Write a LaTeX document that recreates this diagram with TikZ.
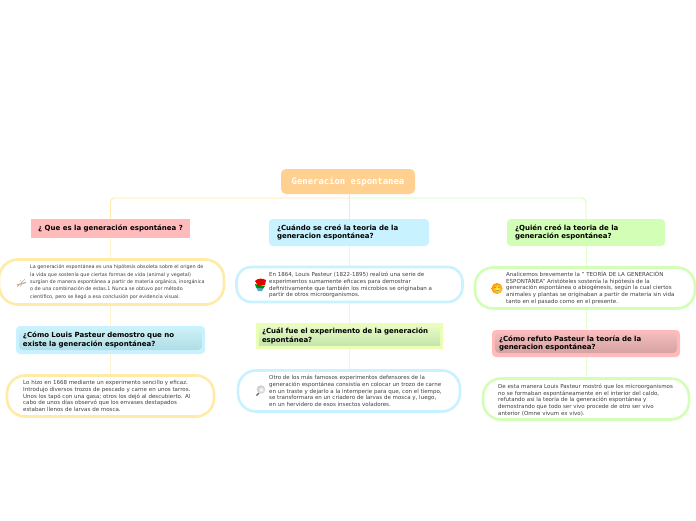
\documentclass[tikz,border=0pt]{standalone}
\usepackage{fontspec}
\setmainfont{DejaVu Sans}
\setmonofont{DejaVu Sans Mono}
\usetikzlibrary{calc,backgrounds}
\definecolor{cent}{HTML}{FFD08F}
\definecolor{cyel}{HTML}{FFEBA8}
\definecolor{cgrn}{HTML}{D2FFB5}
\definecolor{cblu}{HTML}{C8F2FF}
\definecolor{cred}{HTML}{FFBBBB}
\definecolor{clim}{HTML}{EAFFB5}
\definecolor{txt}{HTML}{404040}
\definecolor{gbt}{HTML}{D0F3F8}
\definecolor{gbb}{HTML}{A9D8E2}
\definecolor{ggt}{HTML}{EDFFC8}
\definecolor{ggb}{HTML}{BEE0A8}
\definecolor{grt}{HTML}{F8C0C0}
\definecolor{grb}{HTML}{D09C9C}
\tikzset{
  x=1pt,y=-1pt,
  central/.style={fill=cent,rounded corners=5pt,minimum width=134pt,minimum height=25pt,inner sep=0pt,
    text=white,font=\ttfamily\bfseries\fontsize{8.9}{10}\selectfont},
  head/.style={rounded corners=#1,inner sep=0pt,align=left,anchor=center,text=black,font=\bfseries\fontsize{7}{8.8}\selectfont},
  head/.default=4pt,
  bubble/.style={draw=#1,line width=2.6pt,fill=white,inner sep=0pt},
  body/.style={inner sep=0pt,anchor=west,align=left,text=txt,font=\fontsize{5.52}{6.75}\selectfont},
  bodysmall/.style={body,font=\fontsize{4.85}{7.4}\selectfont},
  lk/.style={line width=0.9pt,draw=#1},
  glow/.style n args={2}{path picture={\shade[top color=#1,bottom color=#2]
    ($(path picture bounding box.north west)+(3,3)$) rectangle ($(path picture bounding box.south east)+(-3,-4)$);}}
}
\begin{document}
\begin{tikzpicture}
\useasboundingbox (0,0) rectangle (696,520);
% central
\node[central] (c) at (348,181.5) {Generacion espontanea};
\coordinate (j) at (349,198);
% headers
\node[head=0pt,fill=cred,minimum width=159pt,minimum height=18.5pt,align=center] (h1) at (110.5,228.7) {¿ Que es la generación espontánea ?};
\node[head,fill=cblu,minimum width=160pt,minimum height=27pt,text width=144pt] (h3) at (349,232.5) {¿Cuándo se creó la teoria de la\\generacion espontánea?};
\node[head,fill=cgrn,minimum width=158pt,minimum height=27pt,text width=142pt] (h5) at (586,232.5) {¿Quién creó la teoria de la\\generación espontánea?};
\node[head,fill=cblu,minimum width=189pt,minimum height=28pt,text width=175pt,glow={gbt}{gbb}] (h2) at (110.5,340) {¿Cómo Louis Pasteur demostro que no\\existe la generación espontánea?};
\node[head=0pt,fill=clim,minimum width=187pt,minimum height=26pt,text width=175pt,glow={ggt}{ggb}] (h4) at (349.5,336) {¿Cuál fue el experimento de la generación\\espontánea?};
\node[head,fill=cred,minimum width=188pt,minimum height=27pt,text width=174pt,glow={grt}{grb}] (h6) at (586,343.5) {¿Cómo refuto Pasteur la teoría de la\\generacion espontánea?};
% bubbles
\node[bubble=cyel,minimum width=225pt,minimum height=45pt,rounded corners=19pt] (t1) at (111.5,282) {};
\node[bubble=cyel,minimum width=207pt,minimum height=41pt,rounded corners=18pt] (t2) at (110.5,396) {};
\node[bubble=cblu,minimum width=226pt,minimum height=35pt,rounded corners=15pt] (t3) at (349.5,284.5) {};
\node[bubble=cblu,minimum width=222pt,minimum height=41pt,rounded corners=18pt] (t4) at (349,391) {};
\node[bubble=cgrn,minimum width=220pt,minimum height=41pt,rounded corners=18pt] (t5) at (585,288) {};
\node[bubble=cgrn,minimum width=206pt,minimum height=41pt,rounded corners=18pt] (t6) at (586,399) {};
% body text
\node[bodysmall] (b1) at (30,282) {La generación espontánea es una hipótesis obsoleta sobre el origen de\\la vida que sostenía que ciertas formas de vida (animal y vegetal)\\surgían de manera espontánea a partir de materia orgánica, inorgánica\\o de una combinación de estas.1 Nunca se obtuvo por método\\científico, pero se llegó a esa conclusión por evidencia visual.};
\node[body] (b2) at (23,396) {Lo hizo en 1668 mediante un experimento sencillo y eficaz.\\Introdujo diversos trozos de pescado y carne en unos tarros.\\Unos los tapó con una gasa; otros los dejó al descubierto. Al\\cabo de unos días observó que los envases destapados\\estaban llenos de larvas de mosca.};
\node[body] (b3) at (269,285) {En 1864, Louis Pasteur (1822-1895) realizó una serie de\\experimentos sumamente eficaces para demostrar\\definitivamente que también los microbios se originaban a\\partir de otros microorganismos.};
\node[body] (b4) at (269,391) {Otro de los más famosos experimentos defensores de la\\generación espontánea consistía en colocar un trozo de carne\\en un traste y dejarlo a la intemperie para que, con el tiempo,\\se transformara en un criadero de larvas de mosca y, luego,\\en un hervidero de esos insectos voladores.};
\node[body] (b5) at (506,288) {Analicemos brevemente la " TEORÍA DE LA GENERACIÓN\\ESPONTÁNEA" Aristóteles sostenía la hipótesis de la\\generación espontánea o abiogénesis, según la cual ciertos\\animales y plantas se originaban a partir de materia sin vida\\tanto en el pasado como en el presente.};
\node[body] (b6) at (498,400) {De esta manera Louis Pasteur mostró que los microorganismos\\no se formaban espontáneamente en el interior del caldo,\\refutando así la teoría de la generación espontánea y\\demostrando que todo ser vivo procede de otro ser vivo\\anterior (Omne vivum ex vivo).};
% connectors
\begin{scope}[on background layer]
\fill[white] (0,0) rectangle (696,520);
\draw[lk=cyel,rounded corners=4pt] (j) -| (h1.north);
\draw[lk=cgrn,rounded corners=4pt] (j) -| (h5.north);
\draw[lk=cblu] (c.south -| h3.north) -- (h3.north);
\draw[lk=cyel!60] (h1.south) -- (h1.south |- t1.north);
\draw[lk=cyel!60] (h1.south |- t1.south) -- (h2.north);
\draw[lk=cyel!60] (h2.south) -- (h2.south |- t2.north);
\draw[lk=cblu!60] (h3.south) -- (h3.south |- t3.north);
\draw[lk=cblu!60] (h3.south |- t3.south) -- (h3.south |- h4.north);
\draw[lk=cblu!60] (h3.south |- h4.south) -- (h3.south |- t4.north);
\draw[lk=cgrn!60] (h5.south) -- (h5.south |- t5.north);
\draw[lk=cgrn!60] (h5.south |- t5.south) -- (h6.north);
\draw[lk=cgrn!60] (h6.south) -- (h6.south |- t6.north);
\end{scope}
% icon: insect
\draw[line width=.7pt,draw=gray!50] (17,287) -- (25,279);
\draw[line width=1.1pt,draw=brown!70] (17,285) -- (26,282.5);
\draw[line width=.5pt,draw=gray!50] (20,280) -- (22,283) (20,287) -- (22,284);
% icon: books
\fill[cyan!60!gray] (256,287) -- (264,287) -- (262,291) -- (258,291) -- cycle;
\fill[green!55!black] (255,284) -- (265,286) -- (263,288.5) -- (256,287.5) -- cycle;
\fill[red!90!black] (255,281) .. controls (258,278) and (262,278) .. (266,280) -- (265,285) -- (258,285.5) -- cycle;
% icon: magnifier
\draw[line width=1.2pt,draw=gray!80!black] (256.5,395.5) -- (259,393);
\shade[inner color=white,outer color=gray!45] (261,389.5) circle (4.2pt);
% icon: smiley
\shade[inner color=yellow!70,outer color=orange!85!yellow] (497,288.5) circle (5.5pt);
\fill[black!60] (495,287.5) circle (.7pt) (499,287.5) circle (.7pt);
\draw[black!60,line width=.4pt] (495,291) -- (499,290.5);
\end{tikzpicture}
\end{document}
